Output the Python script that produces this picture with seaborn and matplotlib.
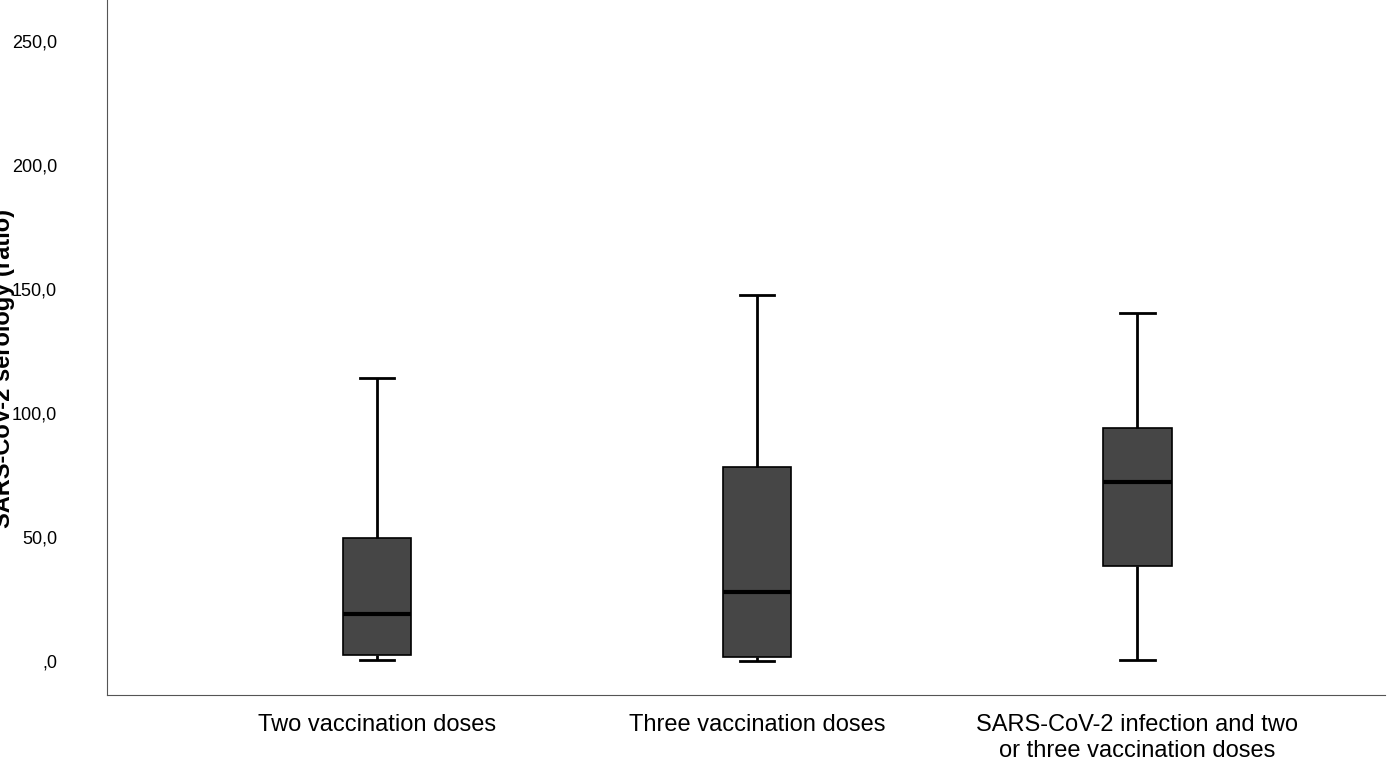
import matplotlib
matplotlib.use("Agg")
import matplotlib.pyplot as plt
import seaborn as sns
import pandas as pd
from matplotlib.ticker import FuncFormatter

categories = ["Two vaccination doses", "Three vaccination doses",
              "SARS-CoV-2 infection and two\nor three vaccination doses"]
mins = [0.3, 0.2, 0.3]
q1s = [2.4, 1.6, 38.3]
medians = [19.0, 27.8, 72.2]
q3s = [49.6, 78.2, 94.0]
maxs = [114.0, 147.6, 140.3]

rows = []
for c, a, b, m, d, e in zip(categories, mins, q1s, medians, q3s, maxs):
    for v in (a, b, m, d, e):
        rows.append({"group": c, "value": v})
df = pd.DataFrame(rows)

plt.rcParams["font.family"] = "Liberation Sans"
fig = plt.figure(figsize=(14, 7.62), dpi=100)
ax = fig.add_axes([0.0764, 0.0879, 0.9126, 0.912])
sns.boxplot(data=df, x="group", y="value", order=categories, whis=(0, 100),
            width=0.18, color="#464646", saturation=1, ax=ax,
            boxprops=dict(facecolor="#464646", edgecolor="black", linewidth=1.2),
            whiskerprops=dict(color="black", linewidth=2),
            capprops=dict(color="black", linewidth=2),
            medianprops=dict(color="black", linewidth=3))
ax.set_xlim(-0.71, 2.65)
ax.set_ylim(-13.7, 266.5)
ax.set_yticks([0, 50, 100, 150, 200, 250])
ax.yaxis.set_major_formatter(FuncFormatter(lambda v, p: ",0" if v == 0 else f"{v:.1f}".replace(".", ",")))
ax.tick_params(axis="y", length=0, labelsize=13, pad=36)
ax.tick_params(axis="x", length=0, labelsize=17, pad=14)
ax.set_xlabel("")
ax.set_ylabel("SARS-CoV-2 serology (ratio)", fontsize=17, fontweight="bold")
ax.yaxis.set_label_coords(-0.072, 0.47)
for s in ["top", "right"]:
    ax.spines[s].set_visible(False)
for s in ["left", "bottom"]:
    ax.spines[s].set_color("#555555")
fig.savefig("out.png", dpi=100)
